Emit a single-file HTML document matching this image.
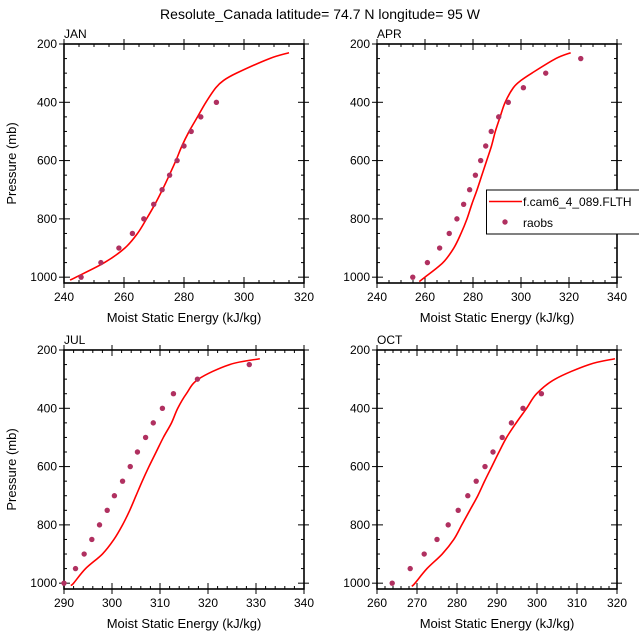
<!DOCTYPE html>
<html><head><meta charset="utf-8"><style>
html,body{margin:0;padding:0;background:#fff;}
svg{display:block;font-family:"Liberation Sans",Arial,sans-serif;}
</style></head><body>
<svg id="c" width="639" height="639" viewBox="0 0 639 639">
<text x="320" y="19" text-anchor="middle" font-size="14">Resolute_Canada  latitude= 74.7 N longitude= 95 W</text>
</svg>
<script>
const janLevels=[1010,1000,950,900,850,800,750,700,650,600,550,500,450,400,350,325,300,250,230];
const janModel=[242,244,253.5,260.3,264.5,267.5,270.3,272.8,275.1,277.3,279.3,281.7,284.5,287.3,290.6,293.2,297.5,308.5,315];
const janObsP=[1000,950,900,850,800,750,700,650,600,550,500,450,400];
const janObs=[245.7,252.3,258.3,262.8,266.6,269.9,272.7,275.2,277.7,280,282.4,285.6,290.8];

const aprLevels=[1015,1000,950,900,850,800,750,700,650,600,550,500,450,400,350,325,300,250,230];
const aprModel=[257.6,260,267.5,272,275,277.5,279.5,281.7,283.7,285.7,287.7,289.3,291.3,293.4,296.8,300,304.5,314.5,320.7];
const aprObsP=[1000,950,900,850,800,750,700,650,600,550,500,450,400,350,300,250];
const aprObs=[254.9,261,266.1,270.1,273.3,276.1,278.6,281,283.2,285.3,287.6,290.7,294.7,301,310.3,324.9];

const julLevels=[1008,1000,950,900,850,800,750,700,650,600,550,500,450,400,350,300,250,230];
const julModel=[291.4,292,294.5,298,300.4,302.2,303.7,305,306.3,307.7,309.2,310.7,312.4,313.7,315.5,318,324.5,330.8];
const julObsP=[1000,950,900,850,800,750,700,650,600,550,500,450,400,350,300,250];
const julObs=[290,292.4,294.2,295.8,297.4,299,300.5,302.2,303.8,305.3,307,308.6,310.5,312.8,317.8,328.6];

const octLevels=[1011,1000,950,900,850,800,750,700,650,600,550,500,450,400,350,300,250,230];
const octModel=[268.7,269.5,272.5,276.3,279.2,281.2,283.2,285.2,286.9,288.7,290.5,292.4,294.8,297.4,299.9,304.5,313,319.5];
const octObsP=[1000,950,900,850,800,750,700,650,600,550,500,450,400,350];
const octObs=[263.8,268.3,271.8,275,277.8,280.3,282.7,284.8,287,289,291.3,293.6,296.5,301.1];

const yTicks=[200,400,600,800,1000];

const svg=document.getElementById('c');
const NS='http://www.w3.org/2000/svg';
function mk(tag,attrs,parent){const e=document.createElementNS(NS,tag);for(const k in attrs)e.setAttribute(k,attrs[k]);(parent||svg).appendChild(e);return e;}

function panel(o){
  const g=mk('g',{});
  
  
  const X=v=>o.x0+(v-o.xmin)/(o.xmax-o.xmin)*(o.x1-o.x0);
  const Y=p=>o.y0+(p-200)/(1020-200)*(o.y1-o.y0);
  for(let v=o.xmin;v<=o.xmax+1e-6;v+=o.xminor){
    const maj=Math.abs(((v-o.xmin)/o.xmajor)-Math.round((v-o.xmin)/o.xmajor))<1e-6;
    const L=maj?6:3;
    mk('line',{x1:X(v),x2:X(v),y1:o.y1-L,y2:o.y1+(maj?5:0),stroke:'#000','stroke-width':1},g);
    mk('line',{x1:X(v),x2:X(v),y1:o.y0+L,y2:o.y0-(maj?5:0),stroke:'#000','stroke-width':1},g);
    if(maj){const t=mk('text',{x:X(v),y:o.y1+18,'text-anchor':'middle','font-size':12},g);t.textContent=Math.round(v);
      }
  }
  for(let p=200;p<=1000;p+=50){
    const maj=p%200===0;const L=maj?6:3;
    mk('line',{x1:o.x0-(maj?5:0),x2:o.x0+L,y1:Y(p),y2:Y(p),stroke:'#000','stroke-width':1},g);
    mk('line',{x1:o.x1+(maj?5:0),x2:o.x1-L,y1:Y(p),y2:Y(p),stroke:'#000','stroke-width':1},g);
  }
  yTicks.forEach(p=>{const t=mk('text',{x:o.x0-7,y:Y(p)+4,'text-anchor':'end','font-size':12},g);t.textContent=p;
    });
  const fr=mk('rect',{x:o.x0,y:o.y0,width:o.x1-o.x0,height:o.y1-o.y0,fill:'none',stroke:'#000','stroke-width':1.6},g);
  
  const pts=o.lv.map((p,i)=>[X(o.mod[i]),Y(p)]);
  let d='M'+pts[0][0]+','+pts[0][1];
  for(let i=0;i<pts.length-1;i++){
    const p0=pts[Math.max(0,i-1)],p1=pts[i],p2=pts[i+1],p3=pts[Math.min(pts.length-1,i+2)];
    d+=' C'+(p1[0]+(p2[0]-p0[0])/6)+','+(p1[1]+(p2[1]-p0[1])/6)+' '+(p2[0]-(p3[0]-p1[0])/6)+','+(p2[1]-(p3[1]-p1[1])/6)+' '+p2[0]+','+p2[1];
  }
  const ln=mk('path',{d:d,fill:'none',stroke:'#ff0000','stroke-width':1.6},g);
  
  o.obsP.forEach((p,i)=>{const c=mk('circle',{cx:X(o.obs[i]),cy:Y(p),r:2.7,fill:'#b03060'},g);
    });
  const lb=mk('text',{x:o.x0,y:o.y0-6,'font-size':12},g);lb.textContent=o.label;
  
  const xt=mk('text',{x:(o.x0+o.x1)/2,y:o.y1+39,'text-anchor':'middle','font-size':13},g);xt.textContent='Moist Static Energy (kJ/kg)';
  
  if(o.ytitle){const yt=mk('text',{x:0,y:0,'text-anchor':'middle','font-size':13,transform:'translate(16,'+((o.y0+o.y1)/2)+') rotate(-90)'},g);yt.textContent='Pressure (mb)';
    }
}
panel({name:'jan',label:'JAN',x0:64,x1:304,y0:44,y1:283,xmin:240,xmax:320,xmajor:20,xminor:5,lv:janLevels,mod:janModel,obsP:janObsP,obs:janObs,ytitle:true});
panel({name:'apr',label:'APR',x0:377,x1:617,y0:44,y1:283,xmin:240,xmax:340,xmajor:20,xminor:5,lv:aprLevels,mod:aprModel,obsP:aprObsP,obs:aprObs,ytitle:false});
panel({name:'jul',label:'JUL',x0:64,x1:304,y0:350,y1:589,xmin:290,xmax:340,xmajor:10,xminor:2,lv:julLevels,mod:julModel,obsP:julObsP,obs:julObs,ytitle:true});
panel({name:'oct',label:'OCT',x0:377,x1:617,y0:350,y1:589,xmin:260,xmax:320,xmajor:10,xminor:2,lv:octLevels,mod:octModel,obsP:octObsP,obs:octObs,ytitle:false});

const lg=mk('g',{});


mk('rect',{x:486.5,y:190,width:160,height:44,fill:'#fff',stroke:'#000','stroke-width':1},lg);
mk('line',{x1:489,x2:522,y1:201.5,y2:201.5,stroke:'#ff0000','stroke-width':1.6},lg);
const t1=mk('text',{x:523,y:206,'font-size':12},lg);t1.textContent='f.cam6_4_089.FLTH';

mk('circle',{cx:505,cy:222,r:2.7,fill:'#b03060'},lg);
const t2=mk('text',{x:523,y:227,'font-size':12},lg);t2.textContent='raobs';

</script>
</body></html>
